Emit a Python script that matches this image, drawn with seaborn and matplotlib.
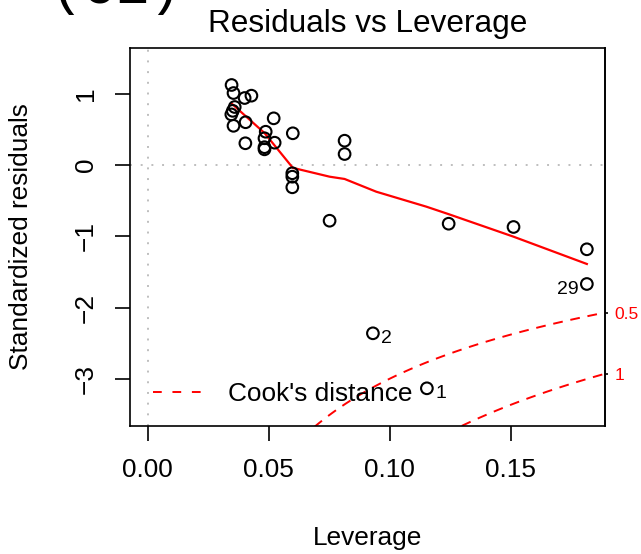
import numpy as np
import pandas as pd
import seaborn as sns
import matplotlib
matplotlib.use("Agg")
import matplotlib.pyplot as plt

# Werte
leverage = [0.0347, 0.0355, 0.0401, 0.0429, 0.0360, 0.0352, 0.0346, 0.0405, 0.0355,
            0.0521, 0.0488, 0.0600, 0.0483, 0.0525, 0.0404, 0.0483, 0.0483, 0.0814,
            0.0814, 0.0598, 0.0598, 0.0598, 0.0752, 0.1244, 0.1512, 0.1815, 0.1815,
            0.0931, 0.1154]
std_resid = [1.123, 1.010, 0.940, 0.973, 0.814, 0.760, 0.710, 0.600, 0.550,
             0.655, 0.467, 0.445, 0.375, 0.313, 0.305, 0.250, 0.220, 0.341,
             0.154, -0.116, -0.164, -0.313, -0.782, -0.824, -0.870, -1.183, -1.670,
             -2.362, -3.134]

# Glaettungslinie (rot)
smooth_x = [0.0346, 0.0483, 0.0600, 0.0752, 0.0814, 0.0945, 0.1152, 0.1244, 0.1512, 0.1815]
smooth_y = [0.866, 0.449, -0.040, -0.164, -0.196, -0.375, -0.585, -0.690, -1.006, -1.389]

# beschriftete Beobachtungen
label_idx = [28, 27, 26]
label_text = ["1", "2", "29"]
label_left = [False, False, True]

# Cook's distance Konturen
cook_levels = [0.5, 1.0]
n_coef = 2

xlim = (-0.00727, 0.1890)
ylim = (-3.663, 1.642)

plt.rcParams["font.family"] = ["Liberation Sans", "DejaVu Sans"]
plt.rcParams["font.size"] = 18.9
plt.rcParams["axes.linewidth"] = 1.2

fig = plt.figure(figsize=(6.41, 5.54), dpi=100)
ax = fig.add_axes([130 / 641, 1 - 426 / 554, 475 / 641, 378 / 554])

df = pd.DataFrame({"Leverage": leverage, "Residuen": std_resid})

# Referenzlinien
ax.axhline(0, color="#BEBEBE", lw=1.4, linestyle=(0, (1, 4.5)), zorder=1)
ax.axvline(0, color="#BEBEBE", lw=1.4, linestyle=(0, (1, 4.5)), zorder=1)

# Cook's distance
hh = np.linspace(0.001, xlim[1], 101)
for lev in cook_levels:
    cl = -np.sqrt(lev * n_coef * (1 - hh) / hh)
    ax.plot(hh, cl, color="red", lw=1.4, linestyle=(0, (5, 4)), zorder=2)

sns.lineplot(x=smooth_x, y=smooth_y, color="red", lw=1.6, ax=ax, zorder=3,
             estimator=None, sort=False)
sns.scatterplot(data=df, x="Leverage", y="Residuen", ax=ax, marker="o", s=70,
                facecolor="none", edgecolor="black", linewidth=1.5, zorder=4)

for i, t, left in zip(label_idx, label_text, label_left):
    ax.annotate(t, (leverage[i], std_resid[i]),
                xytext=(-6 if left else 6, -4), textcoords="offset points",
                ha="right" if left else "left", va="center", fontsize=14)

ax.set_xlim(*xlim)
ax.set_ylim(*ylim)
ax.set_xticks([0.00, 0.05, 0.10, 0.15])
ax.set_xticklabels(["0.00", "0.05", "0.10", "0.15"])
ax.set_yticks([-3, -2, -1, 0, 1])
ax.tick_params(length=11, width=1.2, pad=12)
plt.setp(ax.get_yticklabels(), rotation=90, va="center")

ax.set_xlabel("Leverage")
ax.set_ylabel("Standardized residuals")
ax.xaxis.set_label_coords(237.5 / 475, (426 - 538) / 378)
ax.xaxis.label.set_va("center")
ax.yaxis.set_label_coords((21 - 130) / 475, 0.5)
ax.yaxis.label.set_va("center")
ax.set_title("Residuals vs Leverage", fontsize=22.7, pad=11.5)

# rechte Achse mit Cook-Niveaus
sec = ax.secondary_yaxis("right")
sec.set_yticks([-np.sqrt(lev * n_coef * (1 - xlim[1]) / xlim[1]) for lev in cook_levels])
sec.set_yticklabels([f"{lev:g}" for lev in cook_levels])
sec.tick_params(length=2, width=1.2, pad=5, labelsize=12.5, labelcolor="red")

# Legende
leg_line = plt.Line2D([], [], color="red", lw=1.4, linestyle=(0, (4.5, 5.5)))
ax.legend([leg_line], ["Cook's distance"], loc="center left",
          bbox_to_anchor=(23 / 475, 32 / 378), frameon=False, borderpad=0,
          borderaxespad=0, handlelength=1.95, handletextpad=0.9)

# abgeschnittene Beschriftung oben links (wie im Original)
fig.text(50 / 641, 1 - 3 / 554, "(C1)", family="Liberation Mono", fontsize=40,
         va="baseline", ha="left")

fig.savefig("out.png", dpi=100)
